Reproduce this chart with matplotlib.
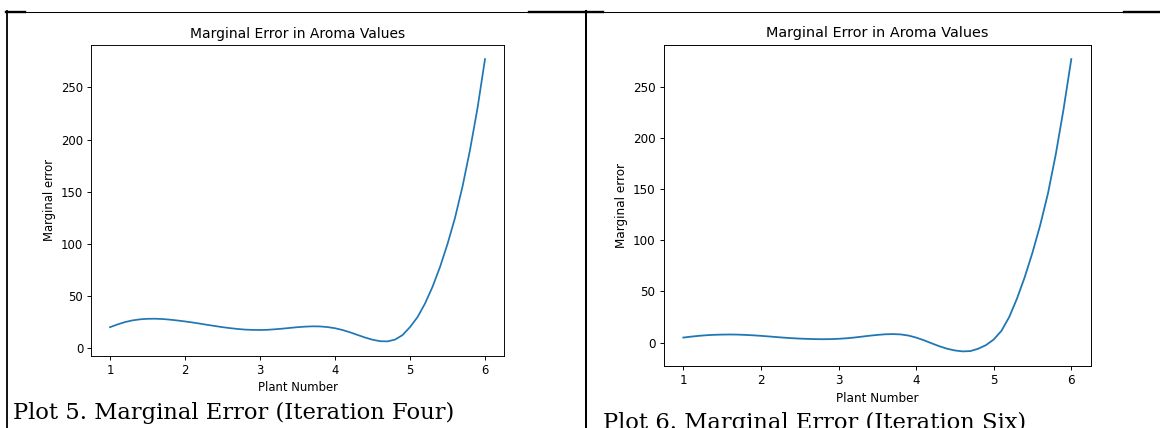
import matplotlib
matplotlib.use("Agg")
import matplotlib.pyplot as plt
from matplotlib.lines import Line2D

# Plant number samples (at 0.1 steps)
plant = [1.0, 1.1, 1.2, 1.3, 1.4, 1.5, 1.6, 1.7, 1.8, 1.9,
         2.0, 2.1, 2.2, 2.3, 2.4, 2.5, 2.6, 2.7, 2.8, 2.9,
         3.0, 3.1, 3.2, 3.3, 3.4, 3.5, 3.6, 3.7, 3.8, 3.9,
         4.0, 4.1, 4.2, 4.3, 4.4, 4.5, 4.6, 4.7, 4.8, 4.9,
         5.0, 5.1, 5.2, 5.3, 5.4, 5.5, 5.6, 5.7, 5.8, 5.9, 6.0]

# Plot 5: iteration four
err_iter4 = [20.4, 23.0, 25.3, 26.9, 27.9, 28.4, 28.5, 28.2, 27.6, 26.8,
             25.9, 24.9, 23.8, 22.6, 21.5, 20.4, 19.5, 18.7, 18.1, 17.8,
             17.7, 17.9, 18.4, 19.0, 19.7, 20.4, 20.9, 21.2, 21.1, 20.5,
             19.4, 17.7, 15.5, 13.0, 10.5, 8.4, 7.0, 6.8, 8.5, 12.8,
             20.5, 30.0, 43.0, 59.0, 78.0, 100.0, 125.0, 155.0, 190.0, 230.0, 277.0]

# Plot 6: iteration six
err_iter6 = [4.9, 5.8, 6.6, 7.2, 7.6, 7.8, 7.9, 7.8, 7.5, 7.1,
             6.6, 6.0, 5.4, 4.8, 4.3, 3.9, 3.6, 3.4, 3.3, 3.4,
             3.7, 4.2, 4.9, 5.8, 6.7, 7.5, 8.1, 8.3, 8.0, 6.9,
             4.9, 2.3, -0.7, -3.6, -6.0, -7.7, -8.6, -8.3, -6.0, -2.5,
             3.0, 11.5, 25.0, 43.0, 64.0, 88.0, 115.0, 146.0, 184.0, 228.0, 277.0]

captions = ["Plot 5. Marginal Error (Iteration Four)",
            "Plot 6. Marginal Error (Iteration Six)"]

W, H = 1160, 428
fig = plt.figure(figsize=(W / 100, H / 100), dpi=100, facecolor="white")


def px_rect(x0, y0, x1, y1):
    # pixel box (top-left origin) -> figure fraction rect
    return [x0 / W, 1 - y1 / H, (x1 - x0) / W, (y1 - y0) / H]


def draw_panel(rect, xs, ys, s):
    ax = fig.add_axes(rect)
    ax.plot(xs, ys, color="#1f77b4", lw=1.5 * s)
    ax.set_title("Marginal Error in Aroma Values", fontsize=12 * s, pad=6 * s)
    ax.set_xlabel("Plant Number", fontsize=10 * s, labelpad=4 * s)
    ax.set_ylabel("Marginal error", fontsize=10 * s, labelpad=4 * s)
    ax.tick_params(labelsize=10 * s, length=3.5 * s, width=0.8 * s, pad=3.5 * s)
    for sp in ax.spines.values():
        sp.set_linewidth(0.8 * s)
    return ax


draw_panel(px_rect(91.25, 45, 503.75, 355.5), plant, err_iter4, 0.835)
draw_panel(px_rect(663.9, 44.5, 1090.7, 366), plant, err_iter6, 0.865)


# table borders of the document
def hline(x0, x1, y, lw):
    fig.add_artist(Line2D([x0 / W, x1 / W], [1 - y / H, 1 - y / H], color="black", lw=lw))


def vline(x, y0, y1, lw):
    fig.add_artist(Line2D([x / W, x / W], [1 - y0 / H, 1 - y1 / H], color="black", lw=lw))


hline(6, 1160, 11.8, 0.75)
for a, b in [(6, 25), (529, 603), (1124, 1160)]:
    hline(a, b, 11.8, 1.7)
vline(6.5, 11, 428, 1.3)
vline(585.7, 11, 428, 1.45)

# captions under each plot (the second one runs past the bottom edge, as in the page)
fig.text(13 / W, 1 - 419 / H, captions[0], family="DejaVu Serif", fontsize=16.3,
         ha="left", va="baseline")
fig.text(603 / W, 1 - 428.5 / H, captions[1], family="DejaVu Serif", fontsize=16.3,
         ha="left", va="baseline")

fig.savefig("out.png", dpi=100, facecolor="white")
